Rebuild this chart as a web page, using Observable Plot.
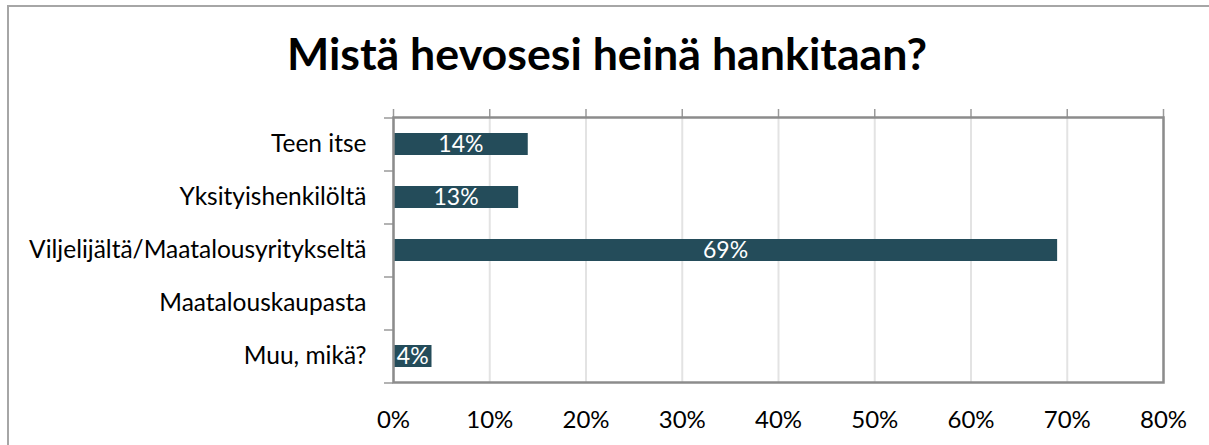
<!DOCTYPE html>
<html>
<head>
<meta charset="utf-8">
<script src="https://cdn.jsdelivr.net/npm/d3@7"></script>
<script src="https://cdn.jsdelivr.net/npm/@observablehq/plot@0.6"></script>
<style>
  html, body { margin: 0; padding: 0; background: #fff; }
  body { width: 1209px; height: 445px; overflow: hidden; position: relative; font-family: Lato, "Open Sans", sans-serif; }
  #frame { position: absolute; left: 7px; top: 5px; width: 1220px; height: 460px; border-left: 2px solid #a6a6a6; border-top: 2px solid #a6a6a6; box-sizing: border-box; pointer-events: none; }
  #title { position: relative; height: 95px; }
  #title span { position: absolute; left: 0; width: 1214px; text-align: center; top: 32px; font-family: Lato, sans-serif; font-weight: 700; font-size: 43px; line-height: 1; color: #000; transform: scaleX(1.04); transform-origin: 607px 50%; white-space: nowrap; }
  #chart svg { display: block; }
</style>
</head>
<body>
<div id="frame"></div>
<div id="title"><span>Mistä hevosesi heinä hankitaan?</span></div>
<div id="chart"></div>
<script>
const categories = ["Teen itse", "Yksityishenkilöltä", "Viljelijältä/Maatalousyritykseltä", "Maatalouskaupasta", "Muu, mikä?"];
const values = [14, 13, 69, 0, 4];
const xTicks = [0, 10, 20, 30, 40, 50, 60, 70, 80];

const data = categories.map((c, i) => ({category: c, value: values[i]}));
const labelled = data.filter(d => d.value > 0);

const W = 1209, H = 350, mL = 393, mR = 46, mT = 22, mB = 63;
const step = (H - mT - mB) / categories.length;

const chart = Plot.plot({
  width: W,
  height: H,
  marginLeft: mL,
  marginRight: mR,
  marginTop: mT,
  marginBottom: mB,
  style: {fontFamily: "Lato, sans-serif", fontSize: "24px", color: "#000", background: "#fff", overflow: "visible"},
  x: {domain: [0, 80], ticks: xTicks, tickFormat: d => d + "%", label: null},
  y: {domain: categories, paddingInner: 0.585, paddingOuter: 0.2925, label: null},
  marks: [
    Plot.ruleX(xTicks, {stroke: "#e3e3e3", strokeWidth: 2}),
    Plot.ruleX(xTicks, {stroke: "#9a9a9a", strokeWidth: 1.5, insetTop: -8, insetBottom: H - mT - mB}),
    Plot.ruleY(categories, {stroke: "#9a9a9a", strokeWidth: 1.5, dy: -step / 2, insetLeft: -9, insetRight: W - mL - mR}),
    Plot.ruleY(categories.slice(-1), {stroke: "#9a9a9a", strokeWidth: 1.5, dy: step / 2, insetLeft: -9, insetRight: W - mL - mR}),
    Plot.barX(data, {x: "value", y: "category", fill: "#244c5a"}),
    Plot.text(labelled, {x: d => d.value / 2, y: "category", text: d => d.value + "%", fill: "#fff", fontSize: 23}),
    Plot.frame({stroke: "#8c8c8c", strokeWidth: 2.5}),
    Plot.axisX({anchor: "bottom", ticks: xTicks, tickFormat: d => d + "%", tickSize: 0, tickPadding: 28, fontSize: 24, fill: "#000", label: null}),
    Plot.axisY({anchor: "left", tickSize: 0, tickPadding: 27, fontSize: 24.5, fill: "#000", label: null})
  ]
});
document.getElementById("chart").appendChild(chart);
</script>
</body>
</html>
